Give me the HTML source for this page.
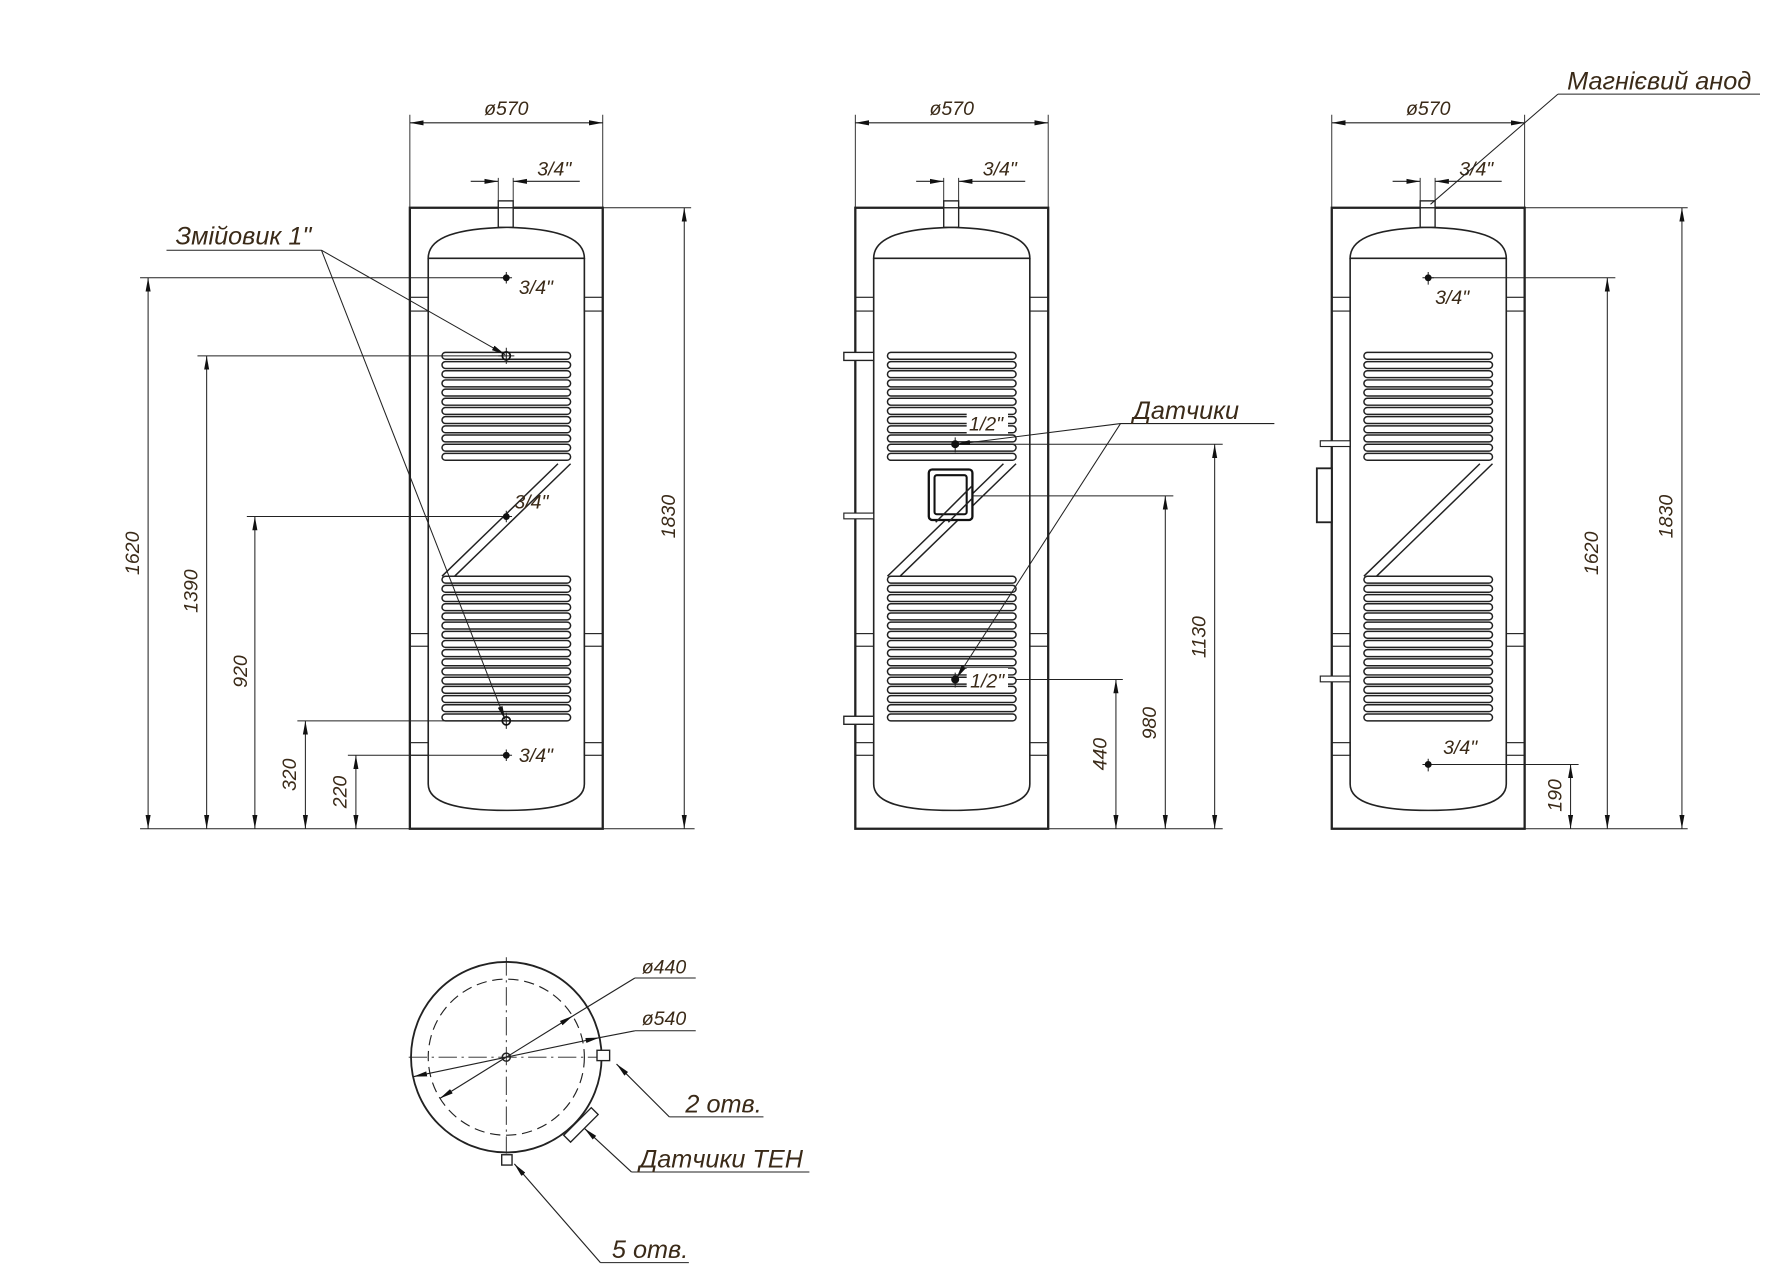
<!DOCTYPE html>
<html><head><meta charset="utf-8"><style>
html,body{margin:0;padding:0;background:#fff;}
svg{display:block;}
text{font-family:"Liberation Sans","DejaVu Sans",sans-serif;font-style:italic;fill:#3a2a18;}
</style></head><body>
<svg width="1791" height="1281" viewBox="0 0 1560 1116" preserveAspectRatio="none" xmlns="http://www.w3.org/2000/svg">
<defs>
<marker id="a" viewBox="0 0 12 6" refX="12" refY="3" markerWidth="12" markerHeight="6" markerUnits="userSpaceOnUse" orient="auto-start-reverse"><path d="M0,0.8 L12,3 L0,5.2z" fill="#111"/></marker>
<g id="coilU" fill="none" stroke="#222" stroke-width="1.3">
<rect x="0" y="0" width="112" height="6" rx="3"/><rect x="0" y="8" width="112" height="6" rx="3"/><rect x="0" y="16" width="112" height="6" rx="3"/><rect x="0" y="24" width="112" height="6" rx="3"/><rect x="0" y="32" width="112" height="6" rx="3"/><rect x="0" y="40" width="112" height="6" rx="3"/><rect x="0" y="48" width="112" height="6" rx="3"/><rect x="0" y="56" width="112" height="6" rx="3"/><rect x="0" y="64" width="112" height="6" rx="3"/><rect x="0" y="72" width="112" height="6" rx="3"/><rect x="0" y="80" width="112" height="6" rx="3"/><rect x="0" y="88" width="112" height="6" rx="3"/>
</g>
<g id="coilL" fill="none" stroke="#222" stroke-width="1.3">
<rect x="0" y="0" width="112" height="6" rx="3"/><rect x="0" y="8" width="112" height="6" rx="3"/><rect x="0" y="16" width="112" height="6" rx="3"/><rect x="0" y="24" width="112" height="6" rx="3"/><rect x="0" y="32" width="112" height="6" rx="3"/><rect x="0" y="40" width="112" height="6" rx="3"/><rect x="0" y="48" width="112" height="6" rx="3"/><rect x="0" y="56" width="112" height="6" rx="3"/><rect x="0" y="64" width="112" height="6" rx="3"/><rect x="0" y="72" width="112" height="6" rx="3"/><rect x="0" y="80" width="112" height="6" rx="3"/><rect x="0" y="88" width="112" height="6" rx="3"/><rect x="0" y="96" width="112" height="6" rx="3"/><rect x="0" y="104" width="112" height="6" rx="3"/><rect x="0" y="112" width="112" height="6" rx="3"/><rect x="0" y="120" width="112" height="6" rx="3"/>
</g>
<g id="tank" fill="none" stroke="#222">
<rect x="357" y="181" width="168" height="541" stroke-width="2"/>
<path d="M373,225 L373,683 M509,225 L509,683" stroke-width="1.4"/>
<path d="M373,225 C373,206 400,199 441,198 C482,199 509,206 509,225 Z" stroke-width="1.4"/>
<path d="M373,683 C373,700 400,706 441,706 C482,706 509,700 509,683" stroke-width="1.4"/>
<rect x="434" y="175" width="13" height="23" stroke-width="1.2" fill="#fff"/>
<line x1="434" y1="181" x2="447" y2="181" stroke-width="1.2"/>
<rect x="357" y="259" width="16" height="12" stroke-width="1"/><rect x="509" y="259" width="16" height="12" stroke-width="1"/>
<rect x="357" y="552" width="16" height="11" stroke-width="1"/><rect x="509" y="552" width="16" height="11" stroke-width="1"/>
<rect x="357" y="647" width="16" height="11" stroke-width="1"/><rect x="509" y="647" width="16" height="11" stroke-width="1"/>
<path d="M357,181 V100 M525,181 V100" stroke-width="0.8"/>
<line x1="357" y1="107" x2="525" y2="107" stroke-width="1" marker-start="url(#a)" marker-end="url(#a)"/>
<path d="M434,175 V155 M447,175 V155" stroke-width="0.8"/>
<line x1="410" y1="158" x2="434" y2="158" stroke-width="1" marker-end="url(#a)"/>
<line x1="505" y1="158" x2="447" y2="158" stroke-width="1" marker-end="url(#a)"/>
</g>
<g id="diag" fill="none" stroke="#222" stroke-width="1.3">
<path d="M497,404 L396,502 M486,404 L385,502"/>
</g>
</defs>

<!-- VIEW 1 -->
<use href="#tank"/>
<use href="#coilU" x="385" y="307"/>
<use href="#coilL" x="385" y="502"/>
<use href="#diag"/>
<text x="441" y="100" font-size="17" text-anchor="middle">ø570</text>
<text x="468" y="153" font-size="17">3/4"</text>
<g stroke="#222" fill="none" stroke-width="0.9">
<path d="M122,722 H605"/>
<path d="M122,242 H441 M172,310 H441 M215,450 H441 M259,628 H441 M303,658 H441 M525,181 H602"/>
<line x1="129" y1="242" x2="129" y2="722" marker-start="url(#a)" marker-end="url(#a)"/>
<line x1="180" y1="310" x2="180" y2="722" marker-start="url(#a)" marker-end="url(#a)"/>
<line x1="222" y1="450" x2="222" y2="722" marker-start="url(#a)" marker-end="url(#a)"/>
<line x1="266" y1="628" x2="266" y2="722" marker-start="url(#a)" marker-end="url(#a)"/>
<line x1="310" y1="658" x2="310" y2="722" marker-start="url(#a)" marker-end="url(#a)"/>
<line x1="596" y1="181" x2="596" y2="722" marker-start="url(#a)" marker-end="url(#a)"/>
<path d="M145,218 H280"/>
<line x1="280" y1="218" x2="440" y2="309" marker-end="url(#a)"/>
<line x1="280" y1="218" x2="440" y2="627" marker-end="url(#a)"/>
<path d="M436,242 H446 M441,237 V247 M434,310 H448 M441,303 V317 M436,450 H446 M441,445 V455 M434,628 H448 M441,621 V635 M436,658 H446 M441,653 V663"/>
</g>
<g fill="#111"><circle cx="441" cy="242" r="3"/><circle cx="441" cy="310" r="3.5" fill="none" stroke="#111" stroke-width="1.5"/><circle cx="441" cy="450" r="3"/><circle cx="441" cy="628" r="3.5" fill="none" stroke="#111" stroke-width="1.5"/><circle cx="441" cy="658" r="3"/></g>
<text x="452" y="256" font-size="17">3/4"</text>
<text x="448" y="443" font-size="17">3/4"</text>
<text x="452" y="664" font-size="17">3/4"</text>
<text x="153" y="213" font-size="22">Змійовик 1"</text>
<text font-size="17" transform="translate(121,482) rotate(-90)" text-anchor="middle">1620</text>
<text font-size="17" transform="translate(172,515) rotate(-90)" text-anchor="middle">1390</text>
<text font-size="17" transform="translate(215,585) rotate(-90)" text-anchor="middle">920</text>
<text font-size="17" transform="translate(258,675) rotate(-90)" text-anchor="middle">320</text>
<text font-size="17" transform="translate(302,690) rotate(-90)" text-anchor="middle">220</text>
<text font-size="17" transform="translate(588,450) rotate(-90)" text-anchor="middle">1830</text>

<!-- VIEW 2 -->
<use href="#tank" x="388"/>
<use href="#coilU" x="773" y="307"/>
<use href="#coilL" x="773" y="502"/>
<use href="#diag" x="388"/>
<rect x="735" y="307" width="26" height="7" fill="#fff" stroke="#222" stroke-width="1.2"/>
<rect x="735" y="447" width="26" height="5" fill="#fff" stroke="#222" stroke-width="1"/>
<rect x="735" y="624" width="26" height="7" fill="#fff" stroke="#222" stroke-width="1.2"/>
<rect x="809" y="409" width="38" height="44" rx="3" fill="#fff" stroke="#111" stroke-width="2"/>
<rect x="814" y="414" width="28" height="34" rx="2" fill="none" stroke="#111" stroke-width="1.8"/>
<path d="M847,434 L826,455 M847,423 L815,455" stroke="#222" stroke-width="1.3" fill="none"/>
<text x="829" y="100" font-size="17" text-anchor="middle">ø570</text>
<text x="856" y="153" font-size="17">3/4"</text>
<g stroke="#222" fill="none" stroke-width="0.9">
<path d="M745,722 H1065"/>
<path d="M832,387 H1065 M847,432 H1022 M885,592 H978"/>
<line x1="1058" y1="387" x2="1058" y2="722" marker-start="url(#a)" marker-end="url(#a)"/>
<line x1="1015" y1="432" x2="1015" y2="722" marker-start="url(#a)" marker-end="url(#a)"/>
<line x1="972" y1="592" x2="972" y2="722" marker-start="url(#a)" marker-end="url(#a)"/>
<path d="M976,369 H1110"/>
<line x1="976" y1="369" x2="833" y2="387" marker-end="url(#a)"/>
<line x1="976" y1="369" x2="833" y2="591" marker-end="url(#a)"/>
<path d="M832,381 V394 M832,586 V599"/>
</g>
<circle cx="832" cy="387" r="3.5" fill="#111"/><circle cx="832" cy="592" r="3.5" fill="#111"/>
<rect x="842" y="358" width="36" height="20" fill="#fff"/>
<rect x="842" y="582" width="36" height="20" fill="#fff"/>
<text x="844" y="375" font-size="17">1/2"</text>
<text x="845" y="599" font-size="17">1/2"</text>
<text x="987" y="365" font-size="22">Датчики</text>
<text font-size="17" transform="translate(1050,555) rotate(-90)" text-anchor="middle">1130</text>
<text font-size="17" transform="translate(1007,630) rotate(-90)" text-anchor="middle">980</text>
<text font-size="17" transform="translate(964,657) rotate(-90)" text-anchor="middle">440</text>

<!-- VIEW 3 -->
<use href="#tank" x="803"/>
<use href="#coilU" x="1188" y="307"/>
<use href="#coilL" x="1188" y="502"/>
<use href="#diag" x="803"/>
<rect x="1150" y="384" width="26" height="5" fill="#fff" stroke="#222" stroke-width="1"/>
<rect x="1150" y="589" width="26" height="5" fill="#fff" stroke="#222" stroke-width="1"/>
<rect x="1147" y="408" width="13" height="47" fill="#fff" stroke="#222" stroke-width="1.6"/>
<text x="1244" y="100" font-size="17" text-anchor="middle">ø570</text>
<text x="1271" y="153" font-size="17">3/4"</text>
<g stroke="#222" fill="none" stroke-width="0.9">
<path d="M1327,722 H1470 M1327,181 H1470 M1244,242 H1407 M1244,666 H1375"/>
<line x1="1465" y1="181" x2="1465" y2="722" marker-start="url(#a)" marker-end="url(#a)"/>
<line x1="1400" y1="242" x2="1400" y2="722" marker-start="url(#a)" marker-end="url(#a)"/>
<line x1="1368" y1="666" x2="1368" y2="722" marker-start="url(#a)" marker-end="url(#a)"/>
<path d="M1357,82 H1533"/>
<line x1="1357" y1="82" x2="1246" y2="178"/>
<path d="M1239,242 H1249 M1244,237 V248 M1239,666 H1249 M1244,661 V672"/>
</g>
<circle cx="1244" cy="242" r="3" fill="#111"/><circle cx="1244" cy="666" r="3" fill="#111"/>
<text x="1250" y="265" font-size="17">3/4"</text>
<text x="1257" y="657" font-size="17">3/4"</text>
<text x="1365" y="78" font-size="22">Магнієвий анод</text>
<text font-size="17" transform="translate(1392,482) rotate(-90)" text-anchor="middle">1620</text>
<text font-size="17" transform="translate(1457,450) rotate(-90)" text-anchor="middle">1830</text>
<text font-size="17" transform="translate(1360,693) rotate(-90)" text-anchor="middle">190</text>

<!-- PLAN VIEW -->
<g fill="none" stroke="#222">
<circle cx="441" cy="921" r="83" stroke-width="1.6"/>
<circle cx="441" cy="921" r="68" stroke-width="1" stroke-dasharray="9,5"/>
<path d="M356,921 H526 M441,834 V1005" stroke-width="0.8" stroke-dasharray="16,4,2,4"/>
<circle cx="441" cy="921" r="3.5" stroke-width="1.3"/>
<line x1="553" y1="852" x2="499" y2="885" stroke-width="1"/>
<line x1="441" y1="921" x2="499" y2="885" stroke-width="1" marker-end="url(#a)"/>
<line x1="441" y1="921" x2="383" y2="957" stroke-width="1" marker-end="url(#a)"/>
<line x1="553" y1="852" x2="606" y2="852" stroke-width="0.9"/>
<line x1="553" y1="898" x2="522" y2="904" stroke-width="1"/>
<line x1="441" y1="921" x2="522" y2="904" stroke-width="1" marker-end="url(#a)"/>
<line x1="441" y1="921" x2="360" y2="938" stroke-width="1" marker-end="url(#a)"/>
<line x1="553" y1="898" x2="606" y2="898" stroke-width="0.9"/>
<rect x="520" y="915" width="11" height="9" stroke-width="1.2" fill="#fff"/>
<rect x="437" y="1006" width="9" height="9" stroke-width="1.2" fill="#fff"/>
<polygon points="491,989 497,995 521,971 515,965" stroke-width="1.2" fill="#fff"/>
<path d="M583,973 H665" stroke-width="0.9"/>
<line x1="583" y1="973" x2="537" y2="927" stroke-width="1" marker-end="url(#a)"/>
<path d="M550,1021 H705" stroke-width="0.9"/>
<line x1="550" y1="1021" x2="509" y2="983" stroke-width="1" marker-end="url(#a)"/>
<path d="M523,1100 H600" stroke-width="0.9"/>
<line x1="523" y1="1100" x2="448" y2="1014" stroke-width="1" marker-end="url(#a)"/>
</g>
<text x="559" y="848" font-size="17">ø440</text>
<text x="559" y="893" font-size="17">ø540</text>
<text x="597" y="969" font-size="22">2 отв.</text>
<text x="557" y="1017" font-size="22">Датчики ТЕН</text>
<text x="533" y="1096" font-size="22">5 отв.</text>
</svg>
</body></html>
